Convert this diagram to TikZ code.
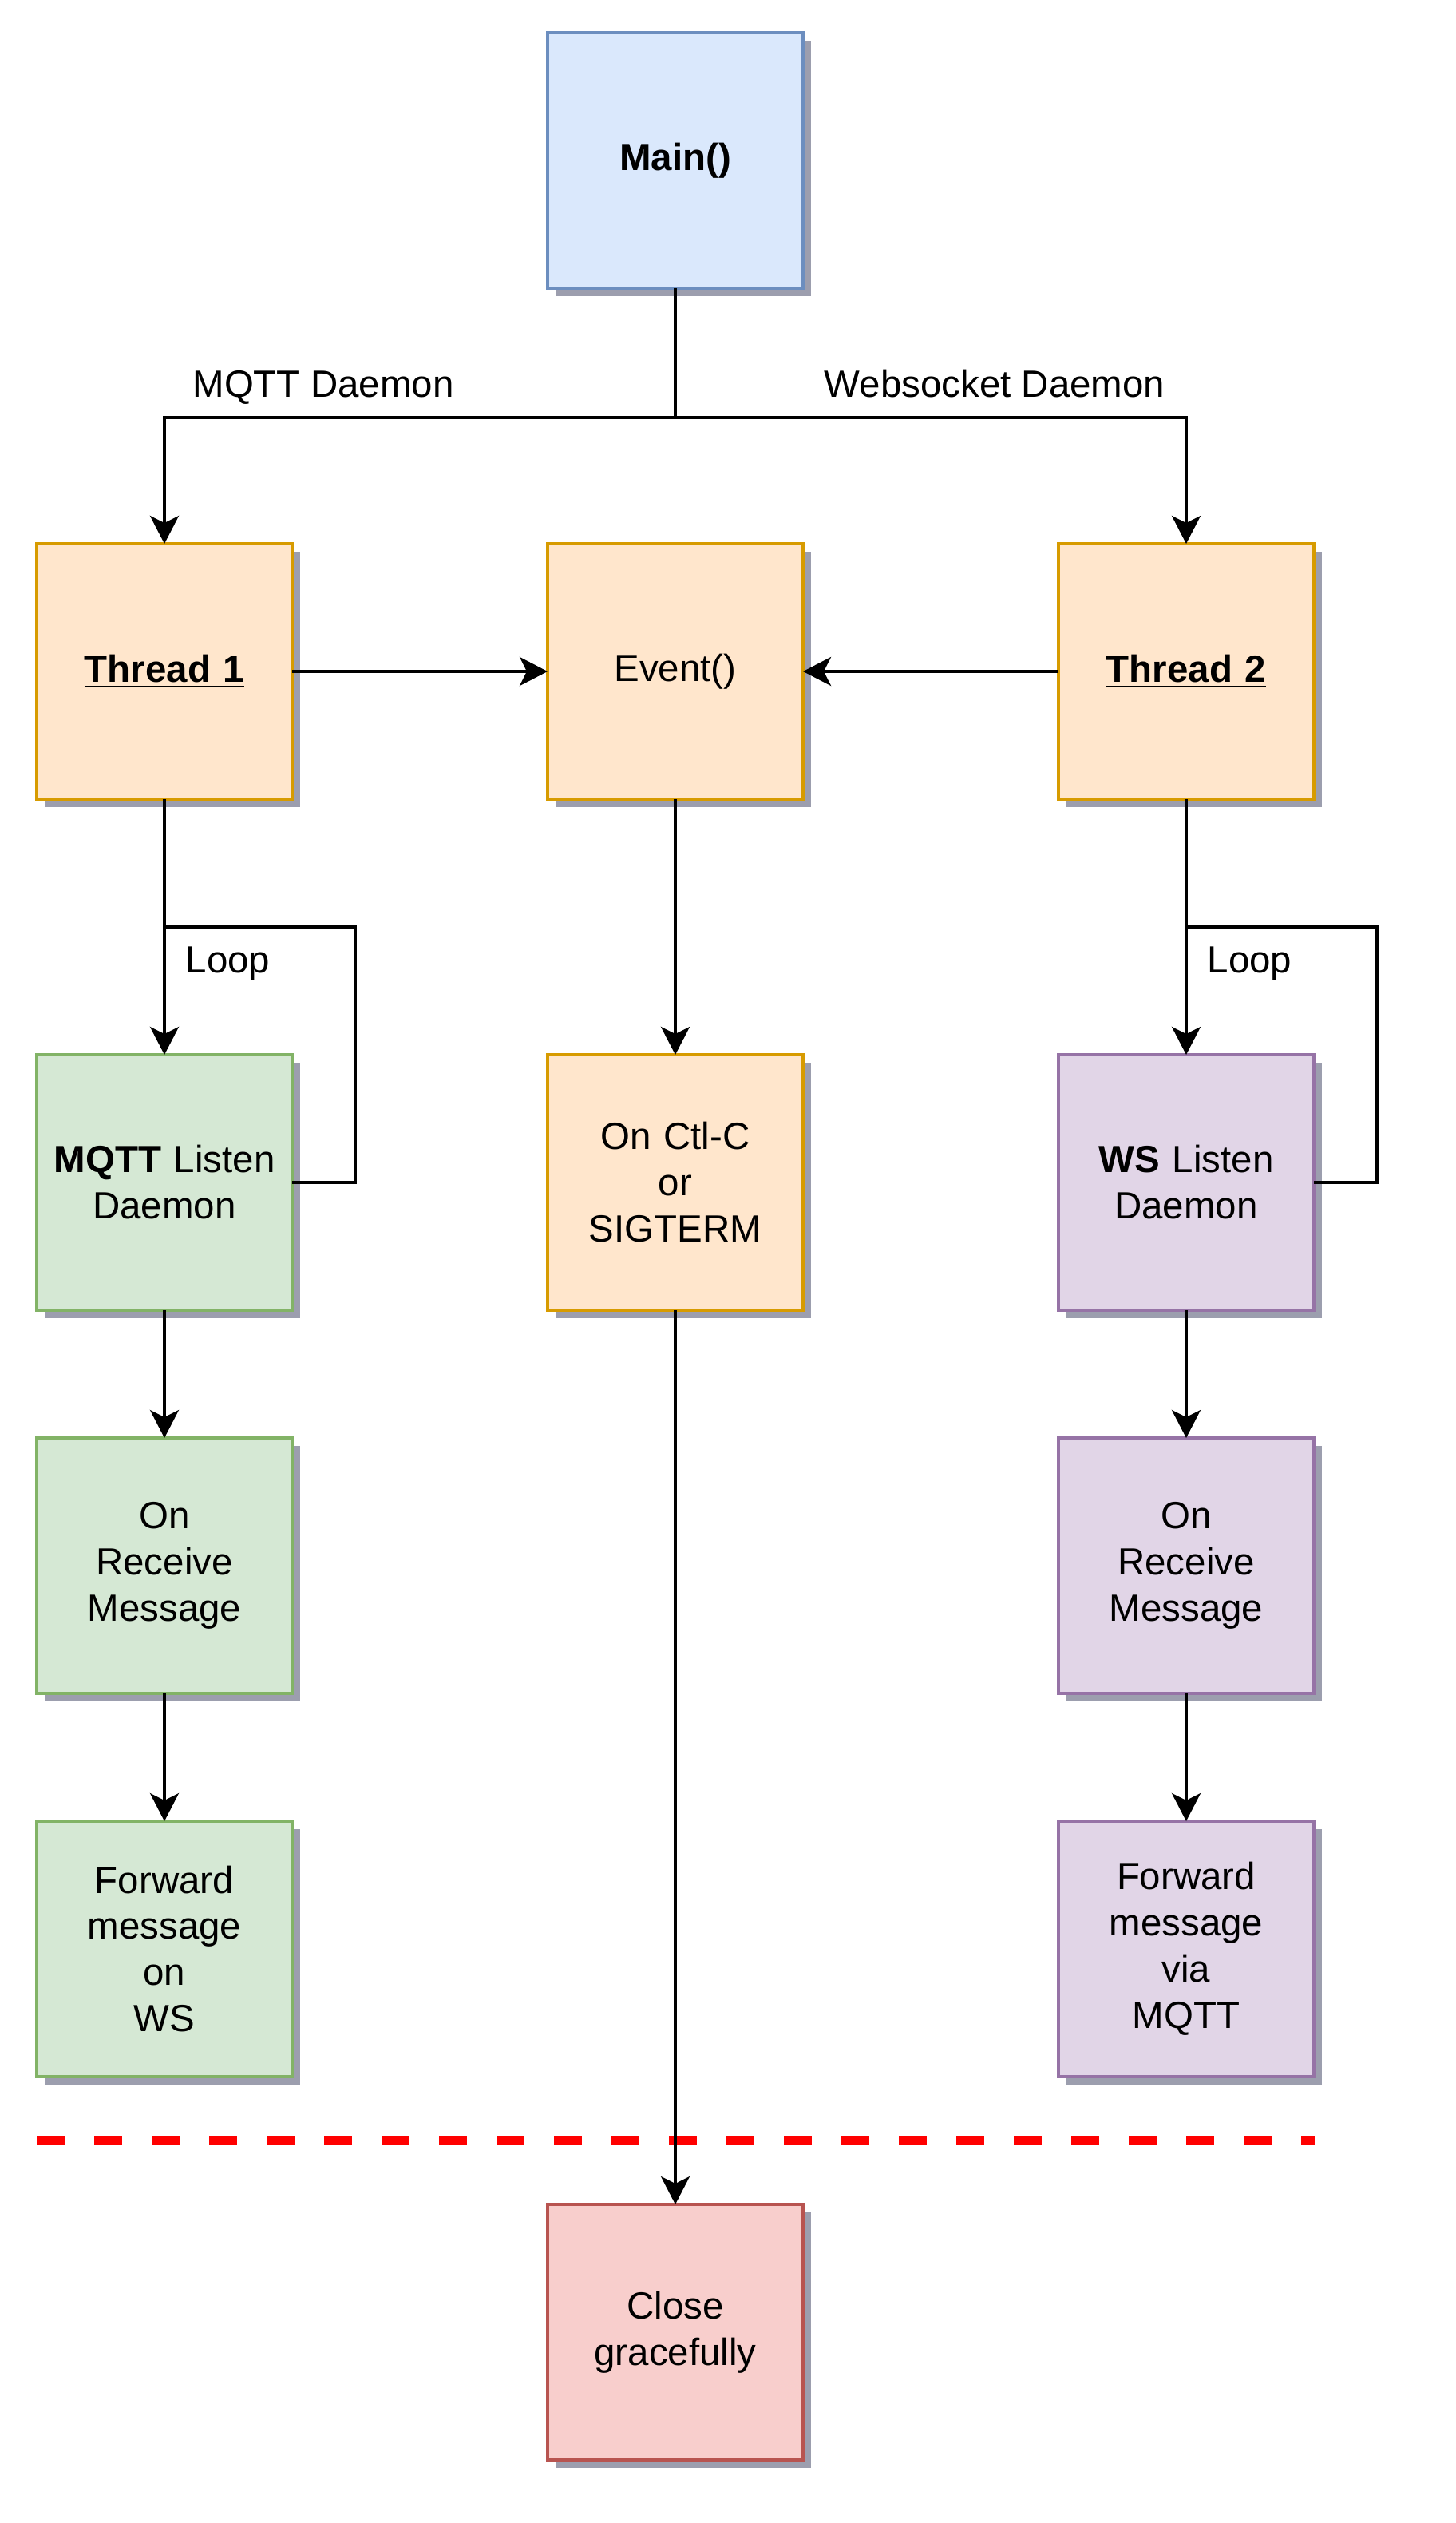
\documentclass[tikz,border=0pt]{standalone}
\usepackage{fontspec}
\setmainfont{Liberation Sans}
\usepackage{tikz}
\usetikzlibrary{positioning,calc,arrows.meta,shadows}
\definecolor{mainfill}{HTML}{DAE8FC}
\definecolor{mainline}{HTML}{6C8EBF}
\definecolor{threadfill}{HTML}{FFE6CC}
\definecolor{threadline}{HTML}{D79B00}
\definecolor{mqttfill}{HTML}{D5E8D4}
\definecolor{mqttline}{HTML}{82B366}
\definecolor{wsfill}{HTML}{E1D5E7}
\definecolor{wsline}{HTML}{9673A6}
\definecolor{closefill}{HTML}{F8CECC}
\definecolor{closeline}{HTML}{B85450}
\definecolor{shadowgray}{RGB}{156,158,174}
\definecolor{cutred}{RGB}{255,0,0}

\begin{document}
\begin{tikzpicture}[
    box/.style={minimum width=3.2cm, minimum height=3.2cm, text width=2.8cm, align=center,
        line width=1pt, outer sep=0pt, font=\fontsize{13.5}{16.5}\selectfont,
        drop shadow={shadow xshift=0.1cm, shadow yshift=-0.1cm, fill=shadowgray, opacity=1}},
    mainbox/.style={box, fill=mainfill, draw=mainline},
    threadbox/.style={box, fill=threadfill, draw=threadline},
    mqttbox/.style={box, fill=mqttfill, draw=mqttline},
    wsbox/.style={box, fill=wsfill, draw=wsline},
    closebox/.style={box, fill=closefill, draw=closeline},
    edgelabel/.style={inner sep=0pt, anchor=base, font=\fontsize{13.5}{16.5}\selectfont},
    flow/.style={-{Stealth[length=3.5mm, width=3.6mm, inset=0.9mm]}, line width=1.1pt},
    plain/.style={line width=1.1pt},
    cutline/.style={cutred, line width=0.12cm, dash pattern=on 0.35cm off 0.37cm},
    node distance=3.2cm
]
\useasboundingbox (0,0) rectangle (18.24,-31.60);

% Top: main and the three thread boxes
\node[mainbox] (main) at (8.46,-2.01) {\textbf{Main()}};
\node[threadbox, below=of main] (event) {Event()};
\node[threadbox, left=of event] (thread1) {\textbf{\underline{Thread 1}}};
\node[threadbox, right=of event] (thread2) {\textbf{\underline{Thread 2}}};

% Listen daemons and signal handler
\node[mqttbox, below=of thread1] (mqttlisten) {\textbf{MQTT} Listen\\Daemon};
\node[threadbox, below=of event] (sigint) {On Ctl-C\\or\\SIGTERM};
\node[wsbox, below=of thread2] (wslisten) {\textbf{WS} Listen\\Daemon};

% Message handling columns
\node[mqttbox, below=1.6cm of mqttlisten] (mqttrecv) {On\\Receive\\Message};
\node[mqttbox, below=1.6cm of mqttrecv] (mqttfwd) {Forward\\message\\on\\WS};
\node[wsbox, below=1.6cm of wslisten] (wsrecv) {On\\Receive\\Message};
\node[wsbox, below=1.6cm of wsrecv] (wsfwd) {Forward\\message\\via\\MQTT};

% Shutdown
\node[closebox, below=11.2cm of sigint] (close) {Close\\gracefully};

% Split from main into the two daemons
\coordinate[below=1.62cm of main] (split);
\draw[plain] (main) -- (split);
\draw[flow] (split) -| (thread1);
\draw[flow] (split) -| (thread2);
\node[edgelabel] (mqttlabel) at (4.05,-4.97) {MQTT Daemon};
\node[edgelabel] (wslabel) at (12.46,-4.97) {Websocket Daemon};

% Threads signal the event
\draw[flow] (thread1) -- (event);
\draw[flow] (thread2) -- (event);
\draw[flow] (event) -- (sigint);

% Loops
\coordinate[below=1.6cm of thread1] (loop1);
\coordinate[below=1.6cm of thread2] (loop2);
\draw[flow] (thread1) -- (mqttlisten);
\draw[flow] (thread2) -- (wslisten);
\draw[plain] (mqttlisten.east) -- ++(0.79,0) |- (loop1);
\draw[plain] (wslisten.east) -- ++(0.79,0) |- (loop2);
\node[edgelabel, anchor=base west] (loop1label) at ($(loop1)+(0.26,-0.57)$) {Loop};
\node[edgelabel, anchor=base west] (loop2label) at ($(loop2)+(0.26,-0.57)$) {Loop};

% Message flow
\draw[flow] (mqttlisten) -- (mqttrecv);
\draw[flow] (mqttrecv) -- (mqttfwd);
\draw[flow] (wslisten) -- (wsrecv);
\draw[flow] (wsrecv) -- (wsfwd);

% Cut line and close
\coordinate (cutstart) at (0.46,-26.81);
\coordinate (cutend) at (16.47,-26.81);
\draw[cutline] (cutstart) -- (cutend);
\draw[flow] (sigint) -- (close);
\end{tikzpicture}
\end{document}
